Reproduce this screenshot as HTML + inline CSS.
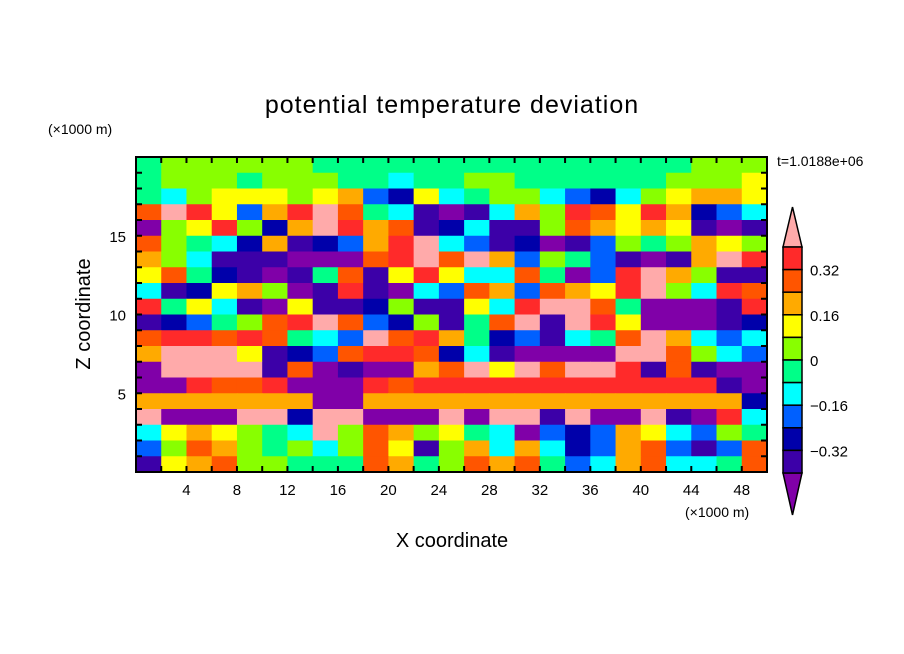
<!DOCTYPE html>
<html><head><meta charset="utf-8"><style>
body{margin:0;background:#fff;}
svg{display:block;font-family:"Liberation Sans","DejaVu Sans",sans-serif;}
</style></head><body>
<svg id="chart" width="904" height="654" viewBox="0 0 904 654">
<rect width="904" height="654" fill="#fff"/>
<text x="452" y="113" text-anchor="middle" font-size="25" letter-spacing="1">potential temperature deviation</text>
<text x="48" y="134" font-size="14">(×1000 m)</text>
<text x="777" y="166" font-size="14">t=1.0188e+06</text>
<g id="cells"></g>
<g id="ticks"></g>
<rect x="136" y="157" width="631" height="315" fill="none" stroke="#000" stroke-width="2"/>
<text x="685" y="517" font-size="14">(×1000 m)</text>
<text x="452" y="547" text-anchor="middle" font-size="20">X coordinate</text>
<text transform="translate(90,314) rotate(-90)" text-anchor="middle" font-size="20">Z coordinate</text>
<g id="colorbar"></g>
</svg>
<script>
const colors = ["#8000a8","#3c00a8","#0000aa","#0060ff","#00ffff","#00ff88","#88ff00","#ffff00","#ffaa00","#ff5500","#ff2a2a","#ffaaaa"];
const levelLabels = ["0.32","0.16","0","\u22120.16","\u22120.32"];
const levelValues = [0.32,0.16,0,-0.16,-0.32];
const xTickLabels = [4,8,12,16,20,24,28,32,36,40,44,48];
const zTickLabels = [5,10,15];
// level index per cell: rows from top (z=20) to bottom (z=0), 25 columns of 2 km
const gridRows = [
[5,6,6,6,6,6,6,5,5,5,5,5,5,5,5,5,5,5,5,5,5,5,6,6,6],
[5,6,6,6,5,6,6,6,5,5,4,5,5,6,6,5,5,5,5,5,5,6,6,6,7],
[5,4,6,7,7,7,6,7,8,3,2,7,4,5,6,6,4,3,2,4,6,7,8,8,7],
[9,11,10,7,3,8,10,11,9,5,4,1,0,1,4,8,6,10,9,7,10,8,2,3,4],
[0,6,7,10,6,2,8,11,10,8,9,1,2,4,1,1,6,9,8,7,8,7,1,0,1],
[9,6,5,4,2,8,1,2,3,8,10,11,4,3,1,2,0,1,3,6,5,6,8,7,6],
[8,6,4,1,1,1,0,0,0,9,10,11,9,11,8,3,6,5,3,1,0,1,8,11,10],
[7,9,5,2,1,0,1,5,9,1,7,10,7,4,4,9,5,0,3,10,11,8,6,1,1],
[4,1,2,7,8,6,0,1,10,1,0,4,3,9,8,3,9,8,7,10,11,6,4,10,9],
[10,5,7,4,1,0,7,1,1,2,6,1,1,7,4,10,11,11,9,5,0,0,0,1,10],
[1,2,3,5,6,9,10,11,9,3,2,6,1,5,9,11,1,11,10,7,0,0,0,1,2],
[9,10,10,9,10,9,5,4,3,11,9,10,8,5,2,3,1,4,5,9,11,8,4,3,4],
[8,11,11,11,7,1,2,3,9,10,10,9,2,4,1,0,0,0,0,11,11,9,6,4,3],
[0,11,11,11,11,1,9,0,1,0,0,8,9,11,7,11,9,11,11,10,1,9,1,0,0],
[0,0,10,9,9,10,0,0,0,10,9,10,10,10,10,10,10,10,10,10,10,10,10,1,0],
[8,8,8,8,8,8,8,0,0,8,8,8,8,8,8,8,8,8,8,8,8,8,8,8,2],
[11,0,0,0,11,11,2,11,11,0,0,0,11,0,11,11,1,11,0,0,11,1,0,10,4],
[4,7,8,7,6,5,4,11,6,9,8,6,7,5,4,0,3,2,3,8,7,4,3,6,5],
[3,6,9,8,6,5,6,4,6,9,7,1,6,8,4,8,4,2,3,8,9,3,1,3,9],
[1,7,8,9,6,6,5,5,5,9,8,5,6,9,8,9,5,3,4,8,9,4,4,5,9]
];
const NS="http://www.w3.org/2000/svg";
const PX0=136,PX1=767,PY0=157,PY1=472,XMAX=50,ZMAX=20;
function xs(v){return PX0+(v/XMAX)*(PX1-PX0);}
function zs(v){return PY1-(v/ZMAX)*(PY1-PY0);}
const cells=document.getElementById('cells');
const nR=gridRows.length;
gridRows.forEach((row,r)=>{
  const nC=row.length;
  row.forEach((lv,c)=>{
    const r0=document.createElementNS(NS,'rect');
    const x0=xs(c*XMAX/nC),x1=xs((c+1)*XMAX/nC);
    const yT=zs(ZMAX-r*ZMAX/nR),yB=zs(ZMAX-(r+1)*ZMAX/nR);
    r0.setAttribute('x',x0);r0.setAttribute('y',yT);
    r0.setAttribute('width',x1-x0+0.5);r0.setAttribute('height',yB-yT+0.5);
    r0.setAttribute('fill',colors[lv]);
    
    
    cells.appendChild(r0);
  });
});
const ticks=document.getElementById('ticks');
function line(x1,y1,x2,y2){const l=document.createElementNS(NS,'line');l.setAttribute('x1',x1);l.setAttribute('y1',y1);l.setAttribute('x2',x2);l.setAttribute('y2',y2);l.setAttribute('stroke','#000');l.setAttribute('stroke-width','2');


ticks.appendChild(l);}
function txt(parent,x,y,s,anchor,size){const t=document.createElementNS(NS,'text');t.setAttribute('x',x);t.setAttribute('y',y);t.setAttribute('text-anchor',anchor);t.setAttribute('font-size',size);t.textContent=s;


parent.appendChild(t);}
for(let v=2;v<XMAX;v+=2){line(xs(v),PY1,xs(v),PY1-6);line(xs(v),PY0,xs(v),PY0+6);}
for(let v=1;v<ZMAX;v++){line(PX0,zs(v),PX0+6,zs(v));line(PX1,zs(v),PX1-6,zs(v));}
xTickLabels.forEach(v=>txt(ticks,xs(v),495,String(v),'middle',15));
zTickLabels.forEach(v=>txt(ticks,126,zs(v)+6,String(v),'end',15));
// colorbar
const cb=document.getElementById('colorbar');
const CBX=783,CBW=19,CBT=247,CBB=473,nBox=10,bh=(CBB-CBT)/nBox;
function poly(pts,fill){const p=document.createElementNS(NS,'polygon');p.setAttribute('points',pts);p.setAttribute('fill',fill);p.setAttribute('stroke','#000');p.setAttribute('stroke-width','1.5');


cb.appendChild(p);}
poly(`${CBX},${CBT} ${CBX+CBW/2},207 ${CBX+CBW},${CBT}`,colors[11]);
poly(`${CBX},${CBB} ${CBX+CBW/2},515 ${CBX+CBW},${CBB}`,colors[0]);
for(let i=0;i<nBox;i++){
  const r=document.createElementNS(NS,'rect');
  r.setAttribute('x',CBX);r.setAttribute('y',CBT+i*bh);r.setAttribute('width',CBW);r.setAttribute('height',bh);
  r.setAttribute('fill',colors[10-i]);r.setAttribute('stroke','#000');r.setAttribute('stroke-width','1.5');
  
  
  cb.appendChild(r);
}
function cbY(v){return CBT+(0.4-v)/0.08*bh;}
levelValues.forEach((v,i)=>txt(cb,810,cbY(v)+6,levelLabels[i],'start',15));
</script>
</body></html>
